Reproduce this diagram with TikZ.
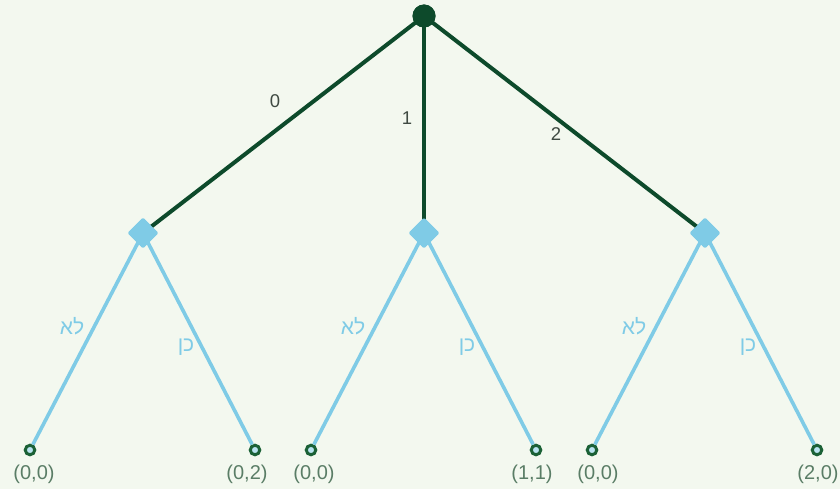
\documentclass[tikz,border=0pt]{standalone}
\usepackage{fontspec}
\setmainfont{Liberation Sans}
\newfontfamily\hebfont[Script=Hebrew]{Liberation Sans}
\TeXXeTstate=1
\usetikzlibrary{shapes.geometric}
\definecolor{bgc}{HTML}{F3F8EF}
\definecolor{dkgreen}{HTML}{0D4A2B}
\definecolor{leafgreen}{HTML}{1B6136}
\definecolor{ltblue}{HTML}{7FCBE6}
\definecolor{leaffill}{HTML}{B9E3F0}
\definecolor{payoff}{HTML}{5A7D66}
\definecolor{numc}{HTML}{3F4A42}
\tikzset{
  rootnode/.style={circle,fill=dkgreen,minimum size=23pt,inner sep=0pt},
  decnode/.style={diamond,fill=ltblue,minimum width=31pt,minimum height=31pt,inner sep=0pt,aspect=1,rounded corners=1.5pt},
  leafnode/.style={circle,draw=leafgreen,fill=leaffill,line width=3pt,minimum size=9.5pt,inner sep=0pt},
  topedge/.style={draw=dkgreen,line width=4pt},
  lowedge/.style={draw=ltblue,line width=3.6pt},
  numlabel/.style={text=numc,font=\fontsize{18.5}{18}\selectfont,inner sep=0pt},
  heblabel/.style={text=ltblue,font=\hebfont\fontsize{21}{21}\selectfont,inner sep=0pt},
  paylabel/.style={text=payoff,font=\fontsize{20}{20}\selectfont,inner sep=0pt}
}
\begin{document}
\begin{tikzpicture}[x=1pt,y=-1pt]
\fill[bgc] (0,0) rectangle (840,489);
\useasboundingbox (0,0) rectangle (840,489);
% nodes
\node[rootnode] (r) at (424,16) {};
\node[decnode] (d0) at (143,233) {};
\node[decnode] (d1) at (424,233) {};
\node[decnode] (d2) at (705,233) {};
\node[leafnode] (l1) at (30,450) {};
\node[leafnode] (l2) at (255,450) {};
\node[leafnode] (l3) at (311,450) {};
\node[leafnode] (l4) at (536,450) {};
\node[leafnode] (l5) at (592,450) {};
\node[leafnode] (l6) at (817,450) {};
% edges
\draw[topedge] (r.center) -- (d0.center);
\draw[topedge] (r.center) -- (d1.center);
\draw[topedge] (r.center) -- (d2.center);
\draw[lowedge] (d0.center) -- (l1);
\draw[lowedge] (d0.center) -- (l2);
\draw[lowedge] (d1.center) -- (l3);
\draw[lowedge] (d1.center) -- (l4);
\draw[lowedge] (d2.center) -- (l5);
\draw[lowedge] (d2.center) -- (l6);
% redraw nodes on top of the connectors
\node[rootnode] at (r) {};
\node[decnode] at (d0) {};
\node[decnode] at (d1) {};
\node[decnode] at (d2) {};
% edge labels
\node[numlabel] (e0) at (275,101) {0};
\node[numlabel] (e1) at (407,118) {1};
\node[numlabel] (e2) at (556,134) {2};
\node[heblabel] (n0) at (72,326) {\beginR לא\endR};
\node[heblabel] (y0) at (186,347) {\beginR כן\endR};
\node[heblabel] (n1) at (353,326) {\beginR לא\endR};
\node[heblabel] (y1) at (467,347) {\beginR כן\endR};
\node[heblabel] (n2) at (634,326) {\beginR לא\endR};
\node[heblabel] (y2) at (748,347) {\beginR כן\endR};
% payoffs
\node[paylabel] (p1) at (34,474) {(0,0)};
\node[paylabel] (p2) at (247,474) {(0,2)};
\node[paylabel] (p3) at (314,474) {(0,0)};
\node[paylabel] (p4) at (532,474) {(1,1)};
\node[paylabel] (p5) at (598,474) {(0,0)};
\node[paylabel] (p6) at (818,474) {(2,0)};
\end{tikzpicture}
\end{document}
